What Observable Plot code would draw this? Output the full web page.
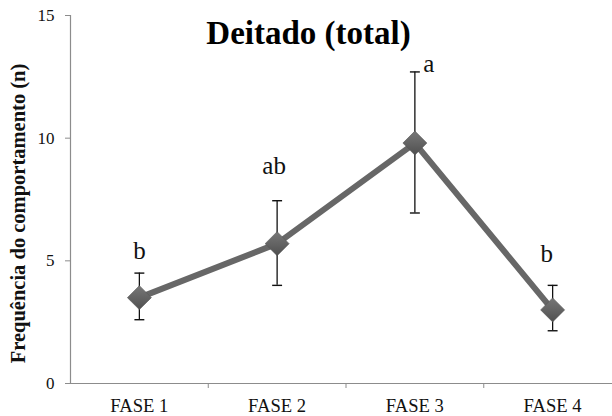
<!DOCTYPE html>
<html>
<head>
<meta charset="utf-8">
<script src="https://cdn.jsdelivr.net/npm/d3@7"></script>
<script src="https://cdn.jsdelivr.net/npm/@observablehq/plot@0.6"></script>
<style>
  html, body { margin: 0; padding: 0; background: #fff; }
  #chart { width: 612px; height: 416px; }
</style>
</head>
<body>
<div id="chart"></div>
<script>
// ---- data ----
const phases = ["FASE 1", "FASE 2", "FASE 3", "FASE 4"];
const means = [3.5, 5.7, 9.8, 3.0];
const upper = [4.5, 7.45, 12.7, 4.0];
const lower = [2.6, 4.0, 6.95, 2.15];
const letters = ["b", "ab", "a", "b"];
const letterY = [5.07, 8.54, 12.71, 4.94];
const letterDx = [0, -3, 14, -6];
const yTicks = [0, 5, 10, 15];
const title = "Deitado (total)";
const yTitle = "Frequência do comportamento (n)";

const rows = phases.map((p, i) => ({i, phase: p, mean: means[i], hi: upper[i], lo: lower[i]}));

const serif = "'Liberation Serif', 'Times New Roman', Times, serif";

const cap = {
  draw(ctx, size) {
    const w = Math.sqrt(size);
    ctx.moveTo(-w / 2, 0);
    ctx.lineTo(w / 2, 0);
  }
};

const W = 612, H = 416, ML = 70, MT = 15, MB = 33;
const chart = Plot.plot({
  width: W,
  height: H,
  marginLeft: ML,
  marginRight: 0,
  marginTop: MT,
  marginBottom: MB,
  style: {fontFamily: serif, background: "#fff", overflow: "visible"},
  x: {type: "linear", domain: [-0.5, 3.5], range: [ML, ML + 4 * 137.75], axis: null, label: null},
  y: {domain: [0, 15], axis: null, label: null},
  marks: [
    // axes lines
    Plot.ruleX([-0.5], {stroke: "#8c8c8c", strokeWidth: 1.2}),
    Plot.ruleY([0], {stroke: "#8c8c8c", strokeWidth: 1.2}),
    Plot.axisY({ticks: yTicks, label: null, tickSize: 5, tickPadding: 11, stroke: "#8c8c8c", fill: "#111", fontSize: 17, fontFamily: serif}),
    Plot.axisX({ticks: [0.5, 1.5, 2.5], label: null, tickSize: 5, tickFormat: () => "", stroke: "#8c8c8c"}),
    Plot.axisX({ticks: [0, 1, 2, 3], label: null, tickSize: 0, tickPadding: 15, tickFormat: (d) => phases[d], fill: "#111", fontSize: 18.6, fontFamily: serif}),
    // y title
    Plot.text([yTitle], {frameAnchor: "left", textAnchor: "middle", dx: -52, dy: 14, rotate: -90, fontSize: 20.5, fontWeight: "bold", fontFamily: serif, fill: "#111"}),
    // chart title
    Plot.text([title], {frameAnchor: "top", dx: 308 - (ML + W) / 2, dy: 17.5, lineAnchor: "middle", fontSize: 33, fontWeight: "bold", fontFamily: serif, fill: "#000"}),
    // error bars
    Plot.ruleX(rows, {x: "i", y1: "lo", y2: "hi", stroke: "#111", strokeWidth: 1.3}),
    Plot.dot(rows, {x: "i", y: "hi", symbol: cap, r: 5.6, stroke: "#111", strokeWidth: 1.4, fill: "none"}),
    Plot.dot(rows, {x: "i", y: "lo", symbol: cap, r: 5.6, stroke: "#111", strokeWidth: 1.4, fill: "none"}),
    // line
    Plot.line(rows, {x: "i", y: "mean", stroke: "#676767", strokeWidth: 6}),
    // markers
    Plot.dot(rows, {x: "i", y: "mean", symbol: "diamond2", r: 10.8, fill: "url(#diamGrad)", stroke: "#555", strokeWidth: 0.6}),
    // significance letters
    ...letters.map((l, i) => Plot.text([l], {x: [i], y: [letterY[i]], text: [l], dx: letterDx[i], lineAnchor: "bottom", fontSize: 25, fontFamily: serif, fill: "#111"}))
  ]
});

// gradient + soft shadow for the diamond markers
const svg = d3.select(chart);
const defs = svg.insert("defs", ":first-child");
const g = defs.append("linearGradient").attr("id", "diamGrad").attr("x1", 0).attr("y1", 0).attr("x2", 0).attr("y2", 1);
g.append("stop").attr("offset", "0%").attr("stop-color", "#777");
g.append("stop").attr("offset", "50%").attr("stop-color", "#646464");
g.append("stop").attr("offset", "100%").attr("stop-color", "#4f4f4f");
const f = defs.append("filter").attr("id", "diamShadow").attr("x", "-50%").attr("y", "-50%").attr("width", "200%").attr("height", "200%");
f.append("feDropShadow").attr("dx", 0).attr("dy", 2).attr("stdDeviation", 2).attr("flood-color", "#000").attr("flood-opacity", 0.35);
svg.selectAll("path[fill='url(#diamGrad)']").attr("filter", "url(#diamShadow)");

document.getElementById("chart").appendChild(chart);
</script>
</body>
</html>
